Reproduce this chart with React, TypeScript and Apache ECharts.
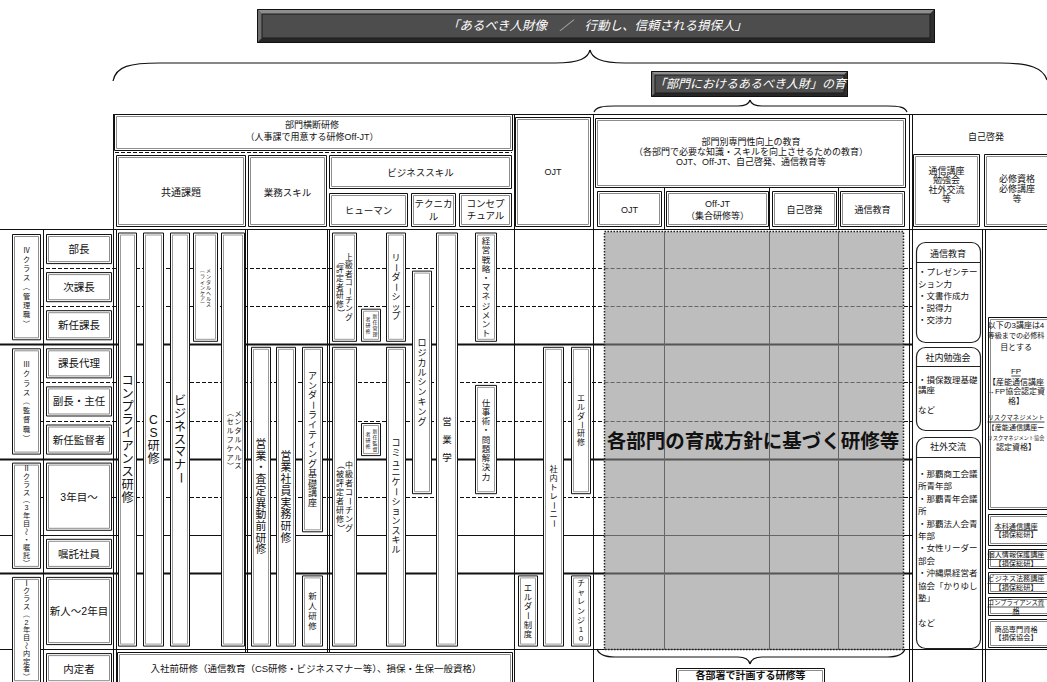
import React, { useEffect, useRef } from "react";
import * as echarts from "echarts";

const W = 1047;
const H = 682;
const FONT = '"Liberation Sans", "Noto Sans CJK JP", sans-serif';
const VFONT = FONT;

// ---------------- data (texts and structure) ----------------
const mainTitle = "「あるべき人財像　／　行動し、信頼される損保人」";
const deptTitle = "「部門におけるあるべき人財」の育";

const crossHeader = ["部門横断研修", "（人事課で用意する研修Off-JT）"];
const groupHeaders = ["共通課題", "業務スキル", "ビジネススキル"];
const bizHeaders = ["ヒューマン", "テクニカ\nル", "コンセプ\nチュアル"];
const ojtHeader = "OJT";
const deptHeader = [
  "部門別専門性向上の教育",
  "（各部門で必要な知識・スキルを向上させるための教育）",
  "OJT、Off-JT、自己啓発、通信教育等",
];
const deptSubHeaders = ["OJT", "Off-JT\n（集合研修等）", "自己啓発", "通信教育"];
const selfHeader = "自己啓発";
const selfSubHeaders = ["通信講座\n勉強会\n社外交流\n等", "必修資格\n必修講座\n等"];

const classLabels = [
  "Ⅳクラス（管理職）",
  "Ⅲクラス（監督職）",
  "Ⅱクラス（3年目～・嘱託）",
  "Ⅰクラス（2年目～内定者）",
];
const classSpans = [[0, 3], [3, 6], [6, 9], [9, 12]];

const rowLabels = ["部長", "次課長", "新任課長", "課長代理", "副長・主任", "新任監督者", "3年目～", "嘱託社員", "新人～2年目", "内定者"];
const rowSpans = [[0, 1], [1, 2], [2, 3], [3, 4], [4, 5], [5, 6], [6, 8], [8, 9], [9, 11], [11, 12]];

const trainings = [
  { cols: ["コンプライアンス研修"], slot: 0, from: 0, to: 11 },
  { cols: ["CS研修"], slot: 1, from: 0, to: 11 },
  { cols: ["ビジネスマナー"], slot: 2, from: 0, to: 11 },
  { cols: ["メンタルヘルス", "（ラインケア）"], slot: 3, from: 0, to: 3 },
  { cols: ["メンタルヘルス", "（セルフケア）"], slot: 4, from: 0, to: 11 },
  { cols: ["営業・査定異動前研修"], slot: 5, from: 3, to: 11 },
  { cols: ["営業社員実務研修"], slot: 6, from: 3, to: 11 },
  { cols: ["アンダーライティング基礎講座"], slot: 7, from: 3, to: 8 },
  { cols: ["新人研修"], slot: 7, from: 9, to: 11 },
  { cols: ["上級者コーチング", "（評定者研修）"], slot: 8, from: 0, to: 3 },
  { cols: ["中級者コーチング", "（被評定者研修）"], slot: 8, from: 3, to: 11 },
  { cols: ["新任管理", "者研修"], slot: 9, from: 2, to: 3 },
  { cols: ["新任監督", "者研修"], slot: 9, from: 5, to: 6 },
  { cols: ["リーダーシップ"], slot: 10, from: 0, to: 3 },
  { cols: ["コミュニケーションスキル"], slot: 10, from: 3, to: 11 },
  { cols: ["ロジカルシンキング"], slot: 11, from: 1, to: 7 },
  { cols: ["営業学"], slot: 12, from: 0, to: 11 },
  { cols: ["経営戦略・マネジメント"], slot: 13, from: 0, to: 3 },
  { cols: ["仕事術・問題解決力"], slot: 13, from: 4, to: 7 },
  { cols: ["エルダー制度"], slot: 14, from: 9, to: 11 },
  { cols: ["社内トレーニー"], slot: 15, from: 3, to: 11 },
  { cols: ["エルダー研修"], slot: 16, from: 3, to: 7 },
  { cols: ["チャレンジ10"], slot: 16, from: 9, to: 11 },
];

const preHireText = "入社前研修（通信教育（CS研修・ビジネスマナー等）、損保・生保一般資格）";
const deptCenterText = "各部門の育成方針に基づく研修等";
const deptPlanText = "各部署で計画する研修等";

const roundBoxes = [
  { title: "通信教育", items: ["・プレゼンテー", "ション力", "・文書作成力", "・説得力", "・交渉力"] },
  { title: "社内勉強会", items: ["・損保数理基礎", "講座", "", "など"] },
  {
    title: "社外交流",
    items: ["・那覇商工会議", "所青年部", "・那覇青年会議", "所", "・那覇法人会青", "年部", "・女性リーダー", "部会", "・沖縄県経営者", "協会「かりゆし", "塾」", "", "など"],
  },
];

const requiredNote = ["以下の3講座は4", "等級までの必修科", "目とする"];
const requiredCourses = [
  { title: "FP", lines: ["【産能通信講座", "→FP協会認定資", "格】"] },
  { title: "リスクマネジメント", lines: ["【産能通信講座ー", "リスクマネジメント協会", "認定資格】"] },
];
const courseBoxes = [
  { lines: ["本科通信講座", "【損保総研】"], underlined: 1 },
  { lines: ["個人情報保護講座", "【損保総研】"], underlined: 1 },
  { lines: ["ビジネス法務講座", "【損保総研】"], underlined: 1 },
  { lines: ["コンプライアンス資", "格"], underlined: 2 },
  { lines: ["商品専門資格", "【損保協会】"], underlined: 0 },
];

// ---------------- layout (positions / styles) ----------------
const BODY_TOP = 230;
const UNIT = 38.1;
const uy = (u: number) => BODY_TOP + u * UNIT;
const BAR_INSET = 2.5;
const LABEL_INSET = 4;

const slotX = [
  [118, 137], [143, 164], [170, 190], [193, 218], [221, 245],
  [251, 271], [276, 296], [302, 323],
  [332, 357], [361, 381], [386, 406], [412, 432], [436, 458], [475, 497],
  [518, 538], [543, 564], [571, 591],
];

const trainingStyle: { fs: number; lh: number; dx?: number[] }[] = [
  { fs: 12.2, lh: 13 },
  { fs: 12.2, lh: 13 },
  { fs: 12, lh: 12.7 },
  { fs: 5, lh: 5.6, dx: [3, -3] },
  { fs: 7.2, lh: 8.8, dx: [5, -3] },
  { fs: 10.8, lh: 11.7 },
  { fs: 10.8, lh: 11.7 },
  { fs: 9, lh: 9.8 },
  { fs: 8.5, lh: 10 },
  { fs: 7.8, lh: 8.6, dx: [4.5, -4.5] },
  { fs: 8, lh: 9, dx: [4.5, -4.5] },
  { fs: 5, lh: 6, dx: [4, -3] },
  { fs: 5, lh: 6, dx: [4, -3] },
  { fs: 9, lh: 9.7 },
  { fs: 9, lh: 9.7 },
  { fs: 9, lh: 9.9 },
  { fs: 9.5, lh: 18 },
  { fs: 8.5, lh: 9.2 },
  { fs: 8.5, lh: 9.25 },
  { fs: 8.3, lh: 9.2 },
  { fs: 8.2, lh: 9 },
  { fs: 8, lh: 8.8 },
  { fs: 8, lh: 9.2 },
];
const classLH = [9.2, 9.2, 7.9, 7.8];

const hRules = [
  { u: 1, kind: "dash" }, { u: 2, kind: "dash" }, { u: 3, kind: "thick" },
  { u: 4, kind: "dash" }, { u: 5, kind: "dash" }, { u: 6, kind: "thick" },
  { u: 7, kind: "dash" }, { u: 8, kind: "thin" }, { u: 9, kind: "thick" },
];

const roundBoxLayout = [
  { x0: 916, y0: 242, x1: 980, y1: 342, titleY: 254, sepY: 262, itemY: 272, lh: 12 },
  { x0: 916, y0: 347, x1: 980, y1: 430, titleY: 358, sepY: 366, itemY: 380, lh: 10 },
  { x0: 916, y0: 437, x1: 980, y1: 648, titleY: 447, sepY: 457, itemY: 474, lh: 12.4 },
];
const courseBoxY = [[514, 546], [549, 569], [572, 594], [597, 616], [619, 648]];
const RIGHT_CX = 1016;
const RIGHT_MAXW = 57;

// characters that turn sideways in vertical writing
const ROTATED = new Set(["ー", "－", "～", "〜", "（", "）", "「", "」", "―"]);

function emWidth(s: string) {
  let w = 0;
  for (const ch of Array.from(s)) w += ch.charCodeAt(0) < 256 ? 0.58 : 1;
  return w;
}

function buildElements() {
  const els: any[] = [];
  const line = (x1: number, y1: number, x2: number, y2: number, stroke = "#111", lineWidth = 1, lineDash?: number[]) =>
    els.push({ type: "line", silent: true, shape: { x1, y1, x2, y2 }, style: { stroke, lineWidth, lineDash, fill: null } });
  const rect = (x: number, y: number, w: number, h: number, style: any, r = 0) =>
    els.push({ type: "rect", silent: true, shape: { x, y, width: w, height: h, r }, style });
  const text = (x: number, y: number, t: string, fs: number, o: any = {}) =>
    els.push({
      type: "text",
      silent: true,
      x,
      y,
      rotation: o.rotation ?? 0,
      style: {
        text: t,
        fill: o.fill ?? "#111",
        fontSize: fs,
        fontFamily: o.family ?? FONT,
        fontWeight: o.bold ? "bold" : "normal",
        fontStyle: o.italic ? "italic" : "normal",
        textAlign: o.align ?? "center",
        textVerticalAlign: o.valign ?? "middle",
        align: o.align ?? "center",
        verticalAlign: o.valign ?? "middle",
        lineHeight: o.lh ?? Math.round(fs * 1.25),
      },
    });
  // vertical writing: one glyph per position, sideways glyphs turned
  const vtext = (x: number, cy: number, s: string, fs: number, lh: number) => {
    const chars = Array.from(s);
    const n = chars.length;
    chars.forEach((ch, i) => {
      const y = cy + (i - (n - 1) / 2) * lh;
      text(x, y, ch, fs, { rotation: ROTATED.has(ch) ? -Math.PI / 2 : 0, lh: fs, family: VFONT });
    });
  };
  // stacked horizontal lines, each its own text
  const mtext = (x: number, cy: number, lines: string[], fs: number, lh: number, o: any = {}) => {
    const n = lines.length;
    lines.forEach((s, i) => text(x, cy + (i - (n - 1) / 2) * lh, s, fs, { ...o, lh: fs }));
  };
  const dbox = (x0: number, y0: number, x1: number, y1: number, inner = "#8c8c8c") => {
    rect(x0 + 0.5, y0 + 0.5, x1 - x0 - 1, y1 - y0 - 1, { fill: "#fff", stroke: "#111", lineWidth: 1 });
    rect(x0 + 2.5, y0 + 2.5, x1 - x0 - 5, y1 - y0 - 5, { fill: "none", stroke: inner, lineWidth: 1 });
  };
  const bez = (x1: number, y1: number, c1x: number, c1y: number, c2x: number, c2y: number, x2: number, y2: number) =>
    els.push({
      type: "bezierCurve",
      silent: true,
      shape: { x1, y1, cpx1: c1x, cpy1: c1y, cpx2: c2x, cpy2: c2y, x2, y2 },
      style: { stroke: "#111", lineWidth: 1.2, fill: null },
    });
  const poly = (pts: number[][], fill: string) =>
    els.push({ type: "polygon", silent: true, shape: { points: pts }, style: { fill } });
  const banner = (x0: number, y0: number, x1: number, y1: number, b: number) => {
    rect(x0, y0, x1 - x0, y1 - y0, { fill: "#3b3b3b" });
    poly([[x0, y0], [x1, y0], [x1 - b, y0 + b], [x0 + b, y0 + b]], "#8e8e8e");
    poly([[x0, y0], [x0 + b, y0 + b], [x0 + b, y1 - b], [x0, y1]], "#6f6f6f");
    poly([[x0, y1], [x0 + b, y1 - b], [x1 - b, y1 - b], [x1, y1]], "#262626");
    poly([[x1, y0], [x1, y1], [x1 - b, y1 - b], [x1 - b, y0 + b]], "#2f2f2f");
    rect(x0 + b, y0 + b, x1 - x0 - 2 * b, y1 - y0 - 2 * b, { fill: "#4d4d4d", stroke: "#1c1c1c", lineWidth: 1 });
    rect(x0 + 0.5, y0 + 0.5, x1 - x0 - 1, y1 - y0 - 1, { fill: "none", stroke: "#111", lineWidth: 1 });
  };
  const fitText = (y: number, s: string, maxFs: number, o: any = {}) => {
    const fs = Math.min(maxFs, RIGHT_MAXW / emWidth(s));
    text(RIGHT_CX, y, s, fs, o);
    return fs * emWidth(s);
  };

  // background
  rect(0, 0, W, H, { fill: "#fff" });

  // ---------- frame lines ----------
  line(113, 114.5, W, 114.5);
  line(0, 229.5, W, 229.5);
  hRules.forEach((r) => {
    const y = Math.round(uy(r.u)) + 0.5;
    if (r.kind === "dash") line(40, y, 912, y, "#111", 1, [4, 2]);
    else if (r.kind === "thick") line(0, y, 912, y, "#111", 2);
    else line(0, y, 912, y, "#111", 1);
  });
  const yBottom = Math.round(uy(11)) + 0.5;
  line(0, yBottom, W, yBottom);
  const verticals = [
    [43.5, 229], [113.5, 114], [116.5, 229], [245.5, 229], [247.5, 229], [327.5, 229], [329.5, 229],
    [514.5, 114], [593.5, 114], [909.5, 114], [912.5, 114], [982.5, 229], [985.5, 229],
  ];
  verticals.forEach(([x, y0]) => line(x, y0, x, H));

  // ---------- grey department block ----------
  const gx0 = 604.5, gx1 = 903.5, gy0 = 231.5, gy1 = yBottom;
  rect(gx0, gy0, gx1 - gx0, gy1 - gy0, { fill: "#bdbdbd" });
  hRules.forEach((r) => {
    const y = Math.round(uy(r.u)) + 0.5;
    if (r.kind === "dash") line(gx0, y, gx1, y, "#666", 1, [4, 2]);
    else if (r.kind === "thick") line(gx0, y, gx1, y, "#555", 2);
    else line(gx0, y, gx1, y, "#666", 1);
  });
  const deptCols = [664.5, 769.5, 838.5];
  deptCols.forEach((x) => line(x, gy0, x, gy1, "#666", 1));
  rect(gx0, gy0, gx1 - gx0, gy1 - gy0, { fill: "none", stroke: "#222", lineWidth: 1.5, lineDash: [1.5, 1.5] });
  deptCols.forEach((x) => line(x, 188, x, 229.5, "#111", 1));

  // ---------- header ----------
  dbox(114, 114, 513, 151);
  mtext(312, 131, crossHeader, 9, 12);
  line(115, 152.5, 512, 152.5, "#111", 1, [4, 2]);
  dbox(116, 155, 246, 227);
  text(181, 192, groupHeaders[0], 10);
  dbox(248, 155, 327, 227);
  text(287.5, 192, groupHeaders[1], 9.5);
  dbox(329, 155, 512, 189);
  text(420.5, 172, groupHeaders[2], 9.5);
  dbox(329, 193, 408, 227);
  text(368.5, 210, bizHeaders[0], 9.5);
  dbox(411, 193, 456, 227);
  mtext(433.5, 210, bizHeaders[1].split("\n"), 9.5, 13);
  dbox(459, 193, 512, 227);
  mtext(485.5, 209, bizHeaders[2].split("\n"), 9.5, 12);

  dbox(515, 117, 591, 227);
  text(553, 172, ojtHeader, 9);

  dbox(595, 118, 906, 188);
  mtext(751, 152, deptHeader, 9, 10.4);
  const subBoxes = [[597, 662], [666, 769], [772, 837], [840, 905]];
  subBoxes.forEach(([a, b], i) => {
    dbox(a, 191, b, 227);
    mtext((a + b) / 2, 209.5, deptSubHeaders[i].split("\n"), 9, 12);
  });

  text(986, 137, selfHeader, 9);
  dbox(913, 154, 980, 227);
  mtext(946.5, 185, selfSubHeaders[0].split("\n"), 9, 9.6);
  dbox(984, 154, 1052, 227);
  mtext(1017, 189, selfSubHeaders[1].split("\n"), 9, 9.6);

  // ---------- class / row labels ----------
  classLabels.forEach((lab, i) => {
    const y0 = uy(classSpans[i][0]) + LABEL_INSET;
    const y1 = uy(classSpans[i][1]) - LABEL_INSET;
    dbox(12, y0, 41, y1);
    vtext(26.5, (y0 + Math.min(y1, 683)) / 2, lab, 7.2, classLH[i]);
  });
  rowLabels.forEach((lab, i) => {
    const y0 = uy(rowSpans[i][0]) + LABEL_INSET;
    const y1 = uy(rowSpans[i][1]) - LABEL_INSET;
    dbox(46, y0, 112, y1);
    text(79, i === rowLabels.length - 1 ? 668.5 : (y0 + y1) / 2, lab, 10.5);
  });

  // ---------- training bars ----------
  trainings.forEach((t, i) => {
    const [x0, x1] = slotX[t.slot];
    const y0 = uy(t.from) + BAR_INSET;
    const y1 = uy(t.to) - BAR_INSET;
    dbox(x0, y0, x1, y1, "#9a9a9a");
    const st = trainingStyle[i];
    const cx = (x0 + x1) / 2;
    const cy = (y0 + y1) / 2;
    t.cols.forEach((c, k) => vtext(cx + (st.dx ? st.dx[k] : 0), cy, c, st.fs, st.lh));
  });

  // ---------- pre-hire row ----------
  dbox(117, 652, 513, 692);
  text(316, 668.5, preHireText, 9.5);

  // ---------- right column: self development ----------
  roundBoxes.forEach((b, i) => {
    const l = roundBoxLayout[i];
    rect(l.x0 + 0.5, l.y0 + 0.5, l.x1 - l.x0, l.y1 - l.y0, { fill: "#fff", stroke: "#222", lineWidth: 1.2 }, 9);
    line(l.x0 + 1, l.sepY + 0.5, l.x1, l.sepY + 0.5, "#222", 1);
    text((l.x0 + l.x1) / 2, l.titleY, b.title, 9);
    b.items.forEach((it, k) => {
      if (it) text(l.x0 + 2, l.itemY + k * l.lh, it, 8.5, { align: "left" });
    });
  });

  dbox(988, 317, 1052, 510);
  requiredNote.forEach((s, k) => fitText(325 + k * 11, s, 8));
  const courseTitleY = [371, 417];
  requiredCourses.forEach((c, i) => {
    const ty = courseTitleY[i];
    const w = fitText(ty, c.title, 8);
    line(RIGHT_CX - w / 2, ty + 5, RIGHT_CX + w / 2, ty + 5, "#111", 0.8);
    c.lines.forEach((s, k) => fitText(ty + 11 + k * 9.5, s, 8));
  });

  courseBoxes.forEach((c, i) => {
    const [y0, y1] = courseBoxY[i];
    dbox(988, y0, 1052, y1);
    const cy = (y0 + y1) / 2;
    c.lines.forEach((s, k) => {
      const ty = cy - 4 + k * 8;
      const w = fitText(ty, s, 7.2);
      if (k < c.underlined) line(RIGHT_CX - w / 2, ty + 4.5, RIGHT_CX + w / 2, ty + 4.5, "#111", 0.7);
    });
  });

  // ---------- bottom brace + planned box ----------
  bez(597, 649, 599, 655, 605, 657, 615, 657);
  line(615, 657, 738, 657, "#111", 1.2);
  bez(738, 657, 746, 657, 749, 660, 750, 664);
  bez(750, 664, 751, 660, 754, 657, 762, 657);
  line(762, 657, 887, 657, "#111", 1.2);
  bez(887, 657, 897, 657, 903, 655, 905, 649);
  dbox(676, 668, 825, 696);
  text(750.5, 675.5, deptPlanText, 10, { bold: true });

  // ---------- titles and braces ----------
  banner(257, 9, 935, 43, 5);
  text(597, 26, mainTitle, 12.5, { fill: "#fff", italic: true });

  bez(113, 81, 116, 66, 130, 63, 160, 63);
  line(160, 63, 555, 63, "#111", 1.2);
  bez(555, 63, 580, 63, 588, 58, 590, 50);
  bez(590, 50, 592, 58, 600, 63, 625, 63);
  line(625, 63, 1000, 63, "#111", 1.2);
  bez(1000, 63, 1030, 63, 1043, 68, 1047, 80);

  banner(651, 71, 848, 97, 4);
  text(750, 84, deptTitle, 12, { fill: "#fff", italic: true });

  bez(594, 112, 596, 107, 603, 106, 615, 106);
  line(615, 106, 738, 106, "#111", 1.2);
  bez(738, 106, 746, 106, 749, 104, 750, 100);
  bez(750, 100, 751, 104, 754, 106, 762, 106);
  line(762, 106, 887, 106, "#111", 1.2);
  bez(887, 106, 899, 106, 905, 107, 907, 112);

  // ---------- central grey caption ----------
  text(753, 441, deptCenterText, 19.5, { bold: true, fill: "#111" });

  return els;
}

export default function App() {
  const ref = useRef<HTMLDivElement>(null);
  useEffect(() => {
    if (!ref.current) return;
    const chart = echarts.init(ref.current, undefined, { renderer: "svg", width: W, height: H });
    chart.setOption({
      animation: false,
      backgroundColor: "#fff",
      graphic: { elements: buildElements() },
    });
    return () => chart.dispose();
  }, []);
  return (
    <div
      ref={ref}
      style={{ position: "fixed", left: 0, top: 0, width: W, height: H, background: "#fff" }}
    />
  );
}
